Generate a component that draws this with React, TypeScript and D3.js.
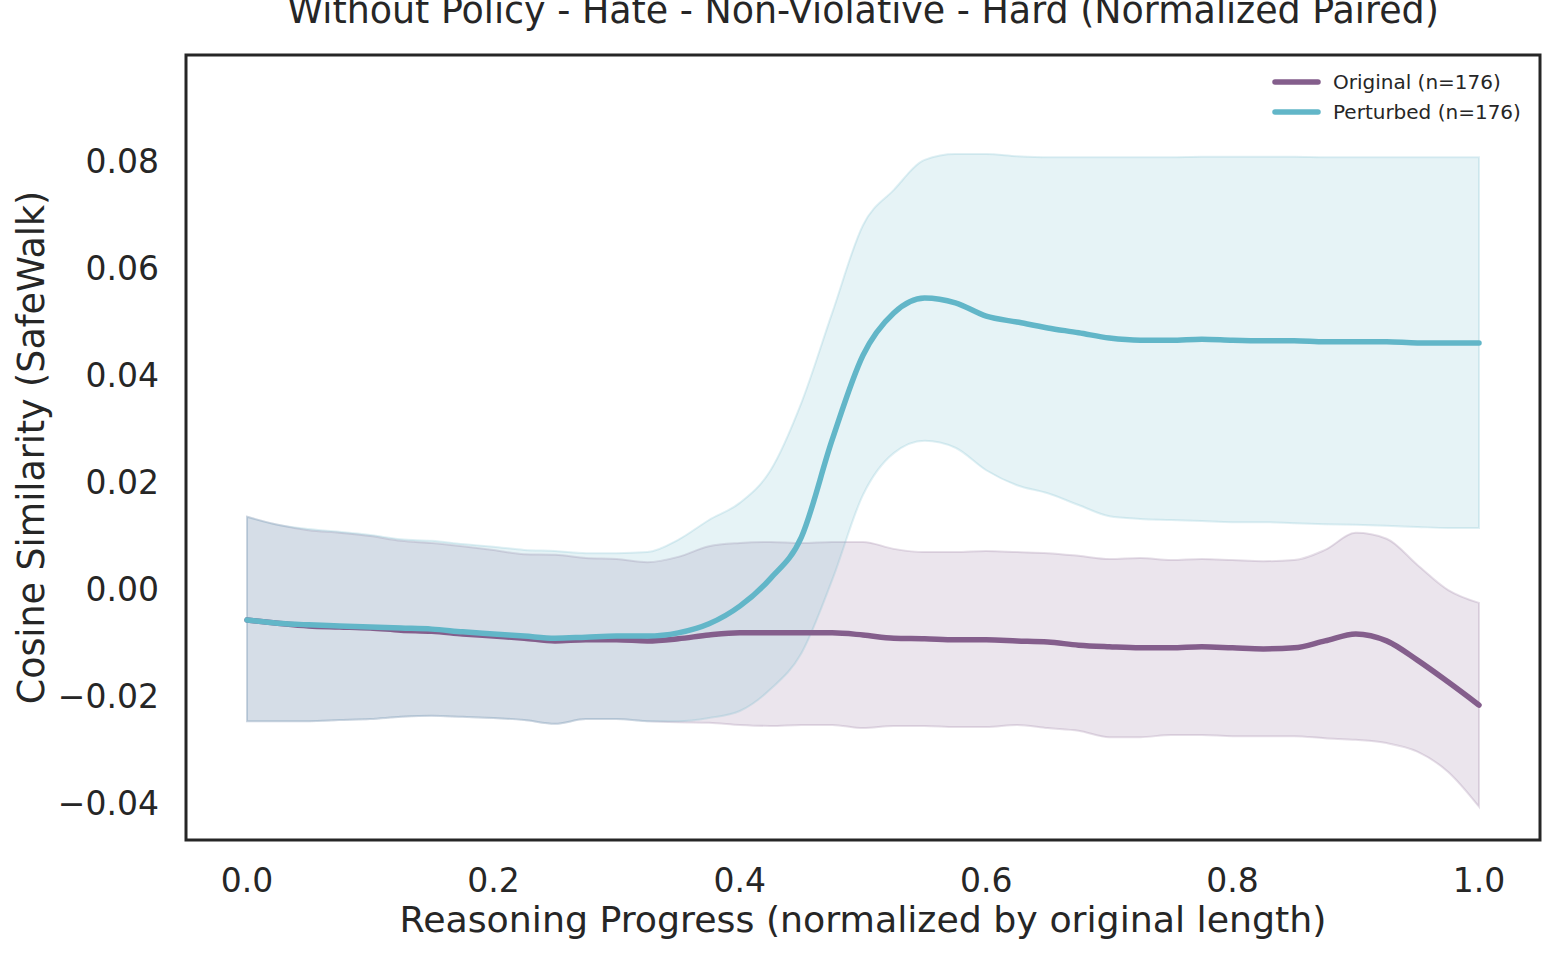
import React from 'react';
import * as d3 from 'd3';

// x positions of the samples (normalized progress)
const progress = d3.range(41).map((i) => i / 40);

// Original (n=176)
const originalMean = [
  -0.0058, -0.0064, -0.0069, -0.0071, -0.0073, -0.0077, -0.0079, -0.0084, -0.0088, -0.0092,
  -0.0097, -0.0095, -0.0095, -0.0097, -0.0093, -0.0086, -0.0082, -0.0082, -0.0082, -0.0082,
  -0.0086, -0.0092, -0.0093, -0.0095, -0.0095, -0.0097, -0.0099, -0.0105, -0.0108, -0.011,
  -0.011, -0.0108, -0.011, -0.0112, -0.011, -0.0097, -0.0084, -0.0097, -0.0133, -0.0174,
  -0.0217,
];
const originalUpper = [
  0.0135, 0.012, 0.011, 0.0105, 0.0099, 0.009, 0.0086, 0.008, 0.0073, 0.0065,
  0.0064, 0.0058, 0.0056, 0.005, 0.006, 0.008, 0.0086, 0.0088, 0.0086, 0.0088,
  0.0088, 0.0075, 0.0069, 0.0069, 0.0071, 0.0069, 0.0067, 0.0062, 0.0056, 0.0058,
  0.0054, 0.0056, 0.0054, 0.0052, 0.0054, 0.0073, 0.0105, 0.0094, 0.0045, -0.0002,
  -0.0026,
];
const originalLower = [
  -0.0247, -0.0247, -0.0247, -0.0245, -0.0243, -0.0239, -0.0237, -0.0239, -0.0241, -0.0245,
  -0.0252, -0.0243, -0.0243, -0.0247, -0.0249, -0.025, -0.0254, -0.0256, -0.0254, -0.0254,
  -0.026, -0.0256, -0.0256, -0.0258, -0.0258, -0.0254, -0.026, -0.0265, -0.0277, -0.0277,
  -0.0273, -0.0273, -0.0275, -0.0275, -0.0275, -0.0279, -0.0282, -0.0288, -0.0304, -0.0342,
  -0.0407,
];

// Perturbed (n=176)
const perturbedMean = [
  -0.0058, -0.0064, -0.0067, -0.0069, -0.0071, -0.0073, -0.0075, -0.008, -0.0084, -0.0088,
  -0.0092, -0.009, -0.0088, -0.0088, -0.0082, -0.0065, -0.0032, 0.002, 0.0097, 0.0279,
  0.0437, 0.0516, 0.0544, 0.0535, 0.051, 0.0499, 0.0488, 0.0479, 0.0469, 0.0465,
  0.0465, 0.0467, 0.0465, 0.0464, 0.0464, 0.0462, 0.0462, 0.0462, 0.046, 0.046,
  0.046,
];
const perturbedUpper = [
  0.0135, 0.012, 0.0112, 0.0107, 0.0101, 0.0093, 0.009, 0.0084, 0.0079, 0.0073,
  0.0071, 0.0067, 0.0067, 0.0069, 0.0092, 0.0129, 0.0161, 0.0222, 0.0348, 0.0516,
  0.068, 0.0746, 0.0802, 0.0813, 0.0813, 0.0809, 0.0807, 0.0807, 0.0807, 0.0807,
  0.0807, 0.0808, 0.0808, 0.0808, 0.0808, 0.0807, 0.0807, 0.0807, 0.0807, 0.0807,
  0.0807,
];
const perturbedLower = [
  -0.0247, -0.0247, -0.0247, -0.0245, -0.0243, -0.0239, -0.0237, -0.0239, -0.0241, -0.0245,
  -0.0252, -0.0243, -0.0243, -0.0247, -0.0247, -0.0241, -0.0228, -0.0187, -0.012, 0.0017,
  0.0176, 0.0254, 0.0277, 0.0264, 0.0222, 0.0194, 0.0179, 0.0157, 0.0136, 0.0131,
  0.0129, 0.0127, 0.0125, 0.0125, 0.0123, 0.0121, 0.012, 0.0118, 0.0116, 0.0114,
  0.0114,
];

const xTicks = [0, 0.2, 0.4, 0.6, 0.8, 1.0];
const yTicks = [-0.04, -0.02, 0, 0.02, 0.04, 0.06, 0.08];

const title = 'Without Policy - Hate - Non-Violative - Hard (Normalized Paired)';
const xLabel = 'Reasoning Progress (normalized by original length)';
const yLabel = 'Cosine Similarity (SafeWalk)';

const series = [
  { name: 'Original (n=176)', color: '#845e8c', mean: originalMean, lower: originalLower, upper: originalUpper },
  { name: 'Perturbed (n=176)', color: '#62b6c8', mean: perturbedMean, lower: perturbedLower, upper: perturbedUpper },
];

const W = 1555;
const H = 956;
const frame = { left: 186, right: 1540, top: 55, bottom: 840 };
const font = '"DejaVu Sans", sans-serif';
const ink = '#262626';

export default function App() {
  const x = d3.scaleLinear().domain([0, 1]).range([247, 1479]);
  const y = d3.scaleLinear().domain([-0.04, 0.08]).range([803, 161]);

  const line = d3
    .line<number>()
    .x((_, i) => x(progress[i]))
    .y((d) => y(d))
    .curve(d3.curveMonotoneX);

  const area = (lo: number[], hi: number[]) =>
    d3
      .area<number>()
      .x((_, i) => x(progress[i]))
      .y0((_, i) => y(lo[i]))
      .y1((_, i) => y(hi[i]))
      .curve(d3.curveMonotoneX)(progress) || '';

  const fmt = (v: number) => {
    const s = Math.abs(v).toFixed(2);
    return v < 0 ? `\u2212${s}` : s;
  };

  return (
    <svg
      width={W}
      height={H}
      style={{ position: 'absolute', left: 0, top: 0, background: '#ffffff' }}
      fontFamily={font}
    >
      <rect x={0} y={0} width={W} height={H} fill="#ffffff" />

      <text x={863} y={23} textAnchor="middle" fontSize={36.4} fill={ink}>
        {title}
      </text>

      {/* bands first, then mean lines */}
      {series.map((s) => (
        <path
          key={`band-${s.name}`}
          d={area(s.lower, s.upper)}
          fill={s.color}
          fillOpacity={0.16}
          stroke={s.color}
          strokeOpacity={0.2}
          strokeWidth={2}
        />
      ))}
      {series.map((s) => (
        <path
          key={`line-${s.name}`}
          d={line(s.mean) || ''}
          fill="none"
          stroke={s.color}
          strokeWidth={5.5}
          strokeLinecap="round"
          strokeLinejoin="round"
        />
      ))}

      <rect
        x={frame.left}
        y={frame.top}
        width={frame.right - frame.left}
        height={frame.bottom - frame.top}
        fill="none"
        stroke={ink}
        strokeWidth={3}
      />

      {/* y ticks */}
      {yTicks.map((t) => (
        <text key={`yt-${t}`} x={159} y={y(t) + 11.5} textAnchor="end" fontSize={33} fill={ink}>
          {fmt(t)}
        </text>
      ))}

      {/* x ticks */}
      {xTicks.map((t) => (
        <text key={`xt-${t}`} x={x(t)} y={892} textAnchor="middle" fontSize={33} fill={ink}>
          {t.toFixed(1)}
        </text>
      ))}

      <text x={863} y={932} textAnchor="middle" fontSize={36.3} fill={ink}>
        {xLabel}
      </text>
      <text
        transform={`translate(44, ${(frame.top + frame.bottom) / 2}) rotate(-90)`}
        textAnchor="middle"
        fontSize={36.4}
        fill={ink}
      >
        {yLabel}
      </text>

      {/* legend */}
      {series.map((s, i) => (
        <g key={`lg-${s.name}`} transform={`translate(1275, ${82 + i * 30})`}>
          <line x1={0} x2={43} y1={0} y2={0} stroke={s.color} strokeWidth={5.5} strokeLinecap="round" />
          <text x={58} y={7} fontSize={20} fill={ink}>
            {s.name}
          </text>
        </g>
      ))}
    </svg>
  );
}
